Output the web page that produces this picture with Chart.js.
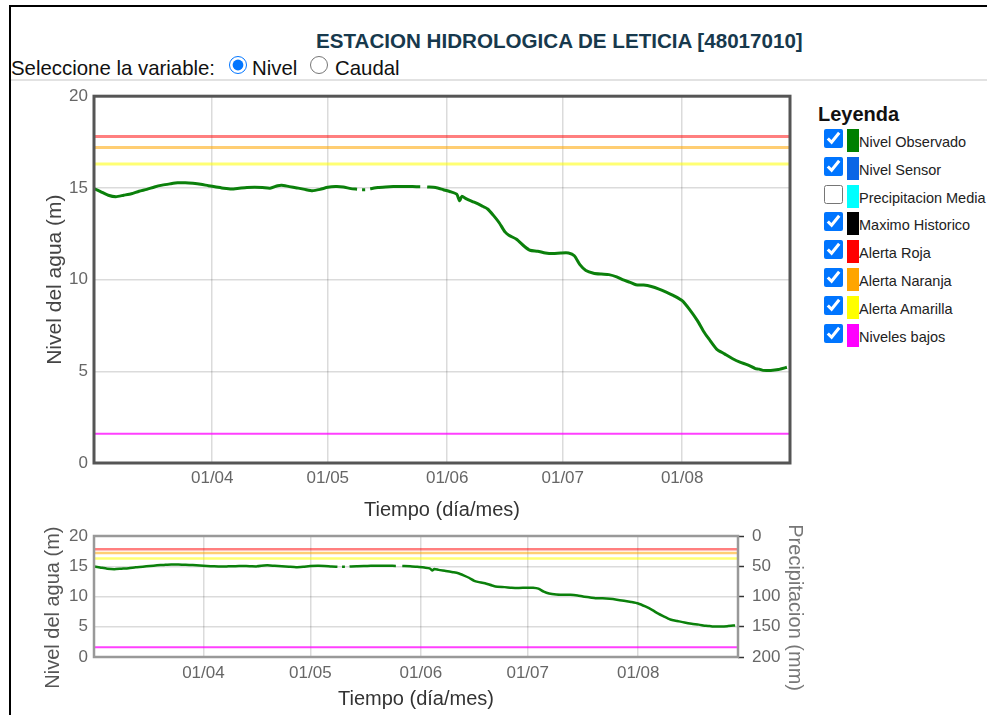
<!DOCTYPE html>
<html lang="es">
<head>
<meta charset="utf-8">
<title>Estacion Hidrologica de Leticia</title>
<script src="https://cdn.jsdelivr.net/npm/chart.js@4.4.0/dist/chart.umd.min.js"></script>
<style>
  html, body { margin: 0; padding: 0; background: #fff; }
  body { width: 987px; height: 715px; overflow: hidden; position: relative; font-family: "Liberation Sans", Arial, sans-serif; }
  #marco { position: absolute; left: 9px; top: 5px; width: 1000px; height: 720px; border-left: 2px solid #000; border-top: 2px solid #000; }
  #separador { position: absolute; left: 11px; top: 79px; width: 990px; height: 2px; background: #e2e2e2; }
  #titulo { position: absolute; left: 316px; top: 29px; font-size: 20.6px; line-height: 24px; font-weight: bold; color: #17394d; white-space: nowrap; }
  .sel { position: absolute; top: 56px; font-size: 20.4px; line-height: 24px; color: #111; white-space: nowrap; }
  .radio { position: absolute; top: 56px; width: 18px; height: 18px; margin: 0; }
  #leyendaTitulo { position: absolute; left: 818px; top: 102px; font-size: 20px; line-height: 24px; font-weight: bold; color: #111; }
  .fila { position: absolute; left: 824px; width: 163px; height: 24px; }
  .fila input { position: absolute; left: 0; top: 0; width: 19px; height: 19px; margin: 0; }
  .fila .color { position: absolute; left: 23px; top: 0; width: 12px; height: 23px; }
  .fila span.texto { position: absolute; left: 35px; top: 5px; font-size: 14.5px; line-height: 17px; color: #222; white-space: nowrap; }
  .lienzo { position: absolute; left: 0; }
</style>
</head>
<body>
<div id="marco"></div>
<div id="separador"></div>
<div id="titulo">ESTACION HIDROLOGICA DE LETICIA [48017010]</div>
<span class="sel" style="left:11px">Seleccione la variable:</span>
<input class="radio" type="radio" name="variable" checked style="left:229px">
<span class="sel" style="left:252px">Nivel</span>
<input class="radio" type="radio" name="variable" style="left:310px">
<span class="sel" style="left:335px">Caudal</span>
<div id="leyendaTitulo">Leyenda</div>
<div id="leyenda"></div>
<canvas id="graficoNivel" class="lienzo" width="800" height="446" style="top:80px"></canvas>
<canvas id="graficoPrecip" class="lienzo" width="820" height="200" style="top:515px"></canvas>

<script>
// Dias contados desde el 01/03 (dia 0)
const dias = [0.4, 2, 4, 6, 8, 10, 12, 14, 16, 18, 20, 22, 24, 26, 28, 30, 32, 34, 36, 38,
    40, 42, 44, 46, 48, 49, 51, 53, 55, 57, 59, 61, 63, 65, 67, 68.6, 69.3, 69.9, 70.7, 71.3,
    72, 74, 76, 78, 81, 83, 85, 86, 86.8, 89, 91, 93, 94.5, 95.2, 95.8, 97, 99, 101, 102.5, 104,
    105.5, 107, 108, 110, 112, 113.5, 115.5, 117.5, 119.5, 121.5, 123.5, 125, 126.5, 128, 130, 132, 134, 136, 137.5, 139.5,
    141, 143, 145, 147, 149, 151, 153, 155, 157, 158.5, 160, 162, 164, 166, 168, 170, 172, 173, 174, 176,
    178, 180.2];
// Nivel observado (m)
const nivelObservado = [14.95, 14.8, 14.6, 14.52, 14.6, 14.68, 14.82, 14.92, 15.05, 15.15, 15.22, 15.28, 15.28, 15.25, 15.2, 15.12, 15.05, 14.98, 14.94, 14.98,
    15.02, 15.03, 15.02, 14.98, 15.12, 15.15, 15.07, 15.0, 14.92, 14.85, 14.92, 15.03, 15.07, 15.05, 14.96, 14.93, null, 14.9, 14.9, null,
    14.95, 15.02, 15.05, 15.07, 15.07, 15.07, 15.06, null, 15.05, 15.02, 14.9, 14.78, 14.65, 14.3, 14.54, 14.4, 14.22, 14.02, 13.85, 13.5,
    13.1, 12.6, 12.42, 12.2, 11.82, 11.6, 11.55, 11.45, 11.42, 11.45, 11.45, 11.3, 10.8, 10.5, 10.35, 10.3, 10.27, 10.15, 10.0, 9.85,
    9.72, 9.7, 9.62, 9.48, 9.3, 9.1, 8.85, 8.35, 7.75, 7.2, 6.75, 6.2, 5.95, 5.7, 5.5, 5.35, 5.15, 5.12, 5.05, 5.05,
    5.1, 5.22];

// Umbrales (m)
const alertaRoja = 17.8;
const alertaNaranja = 17.2;
const alertaAmarilla = 16.3;
const nivelesBajos = 1.6;

// Eje de tiempo
const diaInicio = 0.3;
const diaFin = 181;
const mesesDia = [31, 61, 92, 122, 153];
const mesesEtiqueta = ['01/04', '01/05', '01/06', '01/07', '01/08'];

// Ejes verticales
const nivelTicks = [0, 5, 10, 15, 20];
const precipTicks = [0, 50, 100, 150, 200];

// Leyenda
const leyendaNombres = ['Nivel Observado', 'Nivel Sensor', 'Precipitacion Media', 'Maximo Historico',
    'Alerta Roja', 'Alerta Naranja', 'Alerta Amarilla', 'Niveles bajos'];
const leyendaColores = ['#008000', '#0a66e6', '#00ffff', '#000000', '#ff0000', '#ffa500', '#ffff00', '#ff00ff'];
const leyendaMarcado = [true, true, false, true, true, true, true, true];

document.addEventListener('DOMContentLoaded', function() {
    const fuente = '"Liberation Sans", Arial, sans-serif';

    // Leyenda en HTML
    const leyenda = document.getElementById('leyenda');
    leyendaNombres.forEach((nombre, i) => {
        const fila = document.createElement('div');
        fila.className = 'fila';
        fila.style.top = (129 + i * 27.8) + 'px';
        fila.innerHTML = '<input type="checkbox"' + (leyendaMarcado[i] ? ' checked' : '') + '>' +
            '<span class="color" style="background:' + leyendaColores[i] + '"></span>' +
            '<span class="texto">' + nombre + '</span>';
        leyenda.appendChild(fila);
    });

    const serie = dias.map((d, i) => ({ x: d, y: nivelObservado[i] }));
    const horizontal = v => [{ x: diaInicio, y: v }, { x: diaFin, y: v }];

    // Marco alrededor del area del grafico
    const marcoPlugin = {
        id: 'marco',
        afterDatasetsDraw(chart, args, opts) {
            const { ctx, chartArea: a } = chart;
            ctx.save();
            ctx.strokeStyle = opts.color;
            ctx.lineWidth = opts.width;
            ctx.strokeRect(a.left, a.top, a.right - a.left, a.bottom - a.top);
            ctx.restore();
        }
    };

    function datasets(anchoLinea) {
        return [
            { label: 'Alerta Roja', data: horizontal(alertaRoja), borderColor: 'rgba(255,0,0,0.5)', borderWidth: anchoLinea },
            { label: 'Alerta Naranja', data: horizontal(alertaNaranja), borderColor: 'rgba(255,165,0,0.55)', borderWidth: anchoLinea },
            { label: 'Alerta Amarilla', data: horizontal(alertaAmarilla), borderColor: 'rgba(255,255,0,0.55)', borderWidth: anchoLinea },
            { label: 'Niveles bajos', data: horizontal(nivelesBajos), borderColor: 'rgba(255,0,255,0.75)', borderWidth: 2 },
            { label: 'Nivel Observado', data: serie, borderColor: '#0b800b', borderWidth: anchoLinea, spanGaps: false }
        ];
    }

    function ejeX(alto, relleno) {
        return {
            type: 'linear',
            min: diaInicio,
            max: diaFin,
            afterBuildTicks: s => { s.ticks = mesesDia.map(v => ({ value: v })); },
            afterFit: s => { s.height = alto; },
            ticks: {
                callback: v => mesesEtiqueta[mesesDia.indexOf(v)],
                color: '#666',
                font: { family: fuente, size: 17 },
                padding: relleno,
                maxRotation: 0,
                autoSkip: false
            },
            grid: { color: 'rgba(0,0,0,0.14)', lineWidth: 1.5, drawTicks: false },
            border: { display: false },
            title: { display: true, text: 'Tiempo (día/mes)', color: '#333', font: { family: fuente, size: 20 } }
        };
    }

    function ejeNivel(ancho, colorTitulo, texto, tam) {
        return {
            min: 0,
            max: 20,
            afterBuildTicks: s => { s.ticks = nivelTicks.map(v => ({ value: v })); },
            afterFit: s => { s.width = ancho; },
            ticks: { color: '#666', font: { family: fuente, size: 17 }, padding: 6 },
            grid: { color: 'rgba(0,0,0,0.14)', lineWidth: 1.5, drawTicks: false },
            border: { display: false },
            title: { display: true, text: texto, color: colorTitulo, font: { family: fuente, size: tam } }
        };
    }

    const comunes = {
        responsive: false,
        animation: false,
        elements: { point: { radius: 0 }, line: { tension: 0.2, fill: false } },
        plugins: { legend: { display: false }, tooltip: { enabled: false } }
    };

    // Grafico principal de nivel
    new Chart(document.getElementById('graficoNivel').getContext('2d'), {
        type: 'line',
        data: { datasets: datasets(3) },
        options: {
            ...comunes,
            layout: { padding: { left: 39, top: 13, right: 10, bottom: 0 } },
            plugins: { ...comunes.plugins, marco: { color: '#555', width: 3 } },
            scales: {
                x: ejeX(63, 5),
                y: ejeNivel(55, '#444', 'Nivel del agua (m)', 21)
            }
        },
        plugins: [marcoPlugin]
    });

    // Grafico inferior de nivel y precipitacion
    const precip = datasets(2.5);
    precip.push({ label: 'Precipitacion Media', data: [], yAxisID: 'y2', hidden: true, borderColor: '#00ffff' });
    new Chart(document.getElementById('graficoPrecip').getContext('2d'), {
        type: 'line',
        data: { datasets: precip },
        options: {
            ...comunes,
            layout: { padding: { left: 37, top: 21, right: 9, bottom: 0 } },
            plugins: { ...comunes.plugins, marco: { color: '#999', width: 2.5 } },
            scales: {
                x: ejeX(58, 6),
                y: ejeNivel(57, '#555', 'Nivel del agua (m)    ', 20),
                y2: {
                    position: 'right',
                    reverse: true,
                    min: 0,
                    max: 200,
                    afterBuildTicks: s => { s.ticks = precipTicks.map(v => ({ value: v })); },
                    afterFit: s => { s.width = 73; },
                    ticks: { color: '#666', font: { family: fuente, size: 17 }, padding: 8 },
                    grid: { drawOnChartArea: false, drawTicks: true, tickLength: 6, tickColor: '#333', tickWidth: 1.5 },
                    border: { display: false },
                    title: { display: true, text: '    Precipitacion (mm)', color: '#777', font: { family: fuente, size: 20 } }
                }
            }
        },
        plugins: [marcoPlugin]
    });
});
</script>
</body>
</html>
